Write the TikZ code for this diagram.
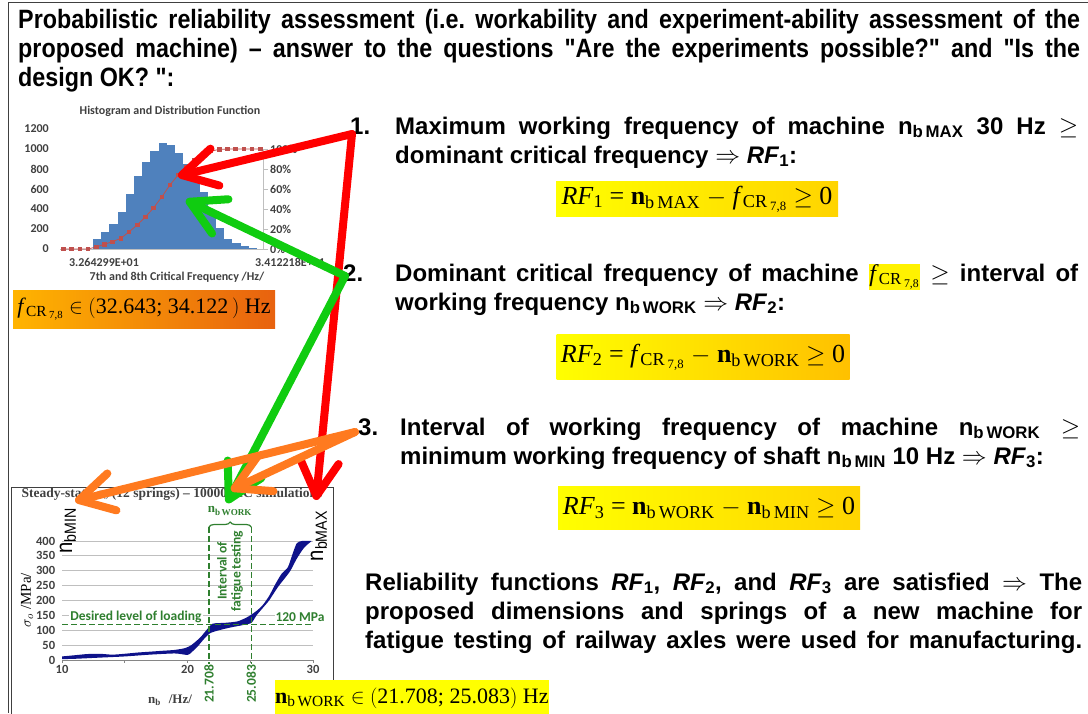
\documentclass[tikz,border=0pt]{standalone}
\usepackage{fontspec}
\setmainfont{Liberation Sans}
\newfontfamily\narrowfont{Liberation Sans}[FakeStretch=0.88, BoldFeatures={FakeStretch=0.88}]
\newfontfamily\tms{Liberation Serif}[Ligatures=TeX]
\newfontfamily\chartfont{Carlito}[Ligatures=TeX]
\usepackage{xcolor}
\usepackage{tikz}
\usetikzlibrary{arrows.meta,decorations.pathreplacing,plotmarks,positioning}
\frenchspacing

\definecolor{arrowred}{HTML}{FF0000}
\definecolor{arrowgreen}{HTML}{10CC10}
\definecolor{arroworange}{HTML}{FF7A1F}
\definecolor{chartgreen}{HTML}{2F7F2F}
\definecolor{barblue}{HTML}{4F81BD}
\definecolor{cdfred}{HTML}{C0504D}
\definecolor{bandblue}{HTML}{0E128A}
\definecolor{axisgray}{HTML}{404040}
\definecolor{gridgray}{HTML}{BFBFBF}
\definecolor{boxyellow}{HTML}{FFFF00}
\definecolor{boxgold}{HTML}{FFD400}
\definecolor{boxamber}{HTML}{FFC000}
\definecolor{boxorangeL}{HTML}{FFB400}
\definecolor{boxorangeR}{HTML}{E8620F}
\definecolor{glowyellow}{HTML}{FFF200}

\newcommand\nb[1]{n\textsubscript{b\,#1}}
\newcommand\RF[1]{\textit{RF}\textsubscript{#1}}
\newcommand\fcr{{\tms\mdseries\textit{f}\textsubscript{CR\,\textsubscript{7,8}}}}
\newcommand\tnb[1]{\textbf{n}\textsubscript{b\,#1}}
\newcommand\glow[1]{{\setlength\fboxsep{0.5pt}\colorbox{glowyellow}{#1}}}

\begin{document}
\begin{tikzpicture}
[x=1pt, y=-1pt]
\tikzset{
	bodytext/.style = {anchor=base west, inner sep=0, text width=#1, align=justify, font=\fontsize{24}{29}\selectfont\bfseries},
	numlabel/.style = {anchor=base west, inner sep=0, font=\fontsize{24}{29}\selectfont\bfseries},
	rfbox/.style = {inner sep=0, font=\tms\fontsize{26}{30}\selectfont},
	ticklabel/.style = {inner sep=1, text=axisgray, font=\chartfont\bfseries\fontsize{12}{13}\selectfont},
	bigticklabel/.style = {inner sep=1, text=axisgray, font=\chartfont\bfseries\fontsize{12.5}{14}\selectfont},
	greenlabel/.style = {inner sep=1, text=chartgreen, font=\chartfont\bfseries\fontsize{13.5}{14}\selectfont},
	bigarrow/.style = {draw=#1, line width=8pt, line cap=round, line join=round, -{Straight Barb[length=34pt, width=38pt, round]}},
	grid line/.style = {draw=gridgray, line width=0.8pt},
	limit line/.style = {draw=chartgreen, line width=1.2pt, dash pattern=on 6pt off 3pt}
}
\useasboundingbox (0,0) rectangle (1088,713);
\draw[axisgray, line width=1pt] (1088,2) -- (8,2) -- (8,713);

\node[bodytext=1062pt, font=\narrowfont\bfseries\fontsize{26.5}{29}\selectfont] (title) at (18,28)
	{Probabilistic reliability assessment (i.e. workability and experiment-ability assessment of the\linebreak
	proposed machine) \textendash{} answer to the questions "Are the experiments possible?" and "Is the\linebreak
	design OK? ":};

\node[numlabel] (num1) at (350,134) {1.};
\node[bodytext=683pt] (item1) at (395,134)
	{Maximum working frequency of machine \nb{MAX} 30 Hz $\geq$\linebreak
	dominant critical frequency $\Rightarrow$ \RF{1}:};
\node[rfbox, minimum width=282pt, minimum height=35pt, left color=boxyellow, right color=boxgold] (rf1) at (697,199)
	{\RF{1} = \tnb{MAX} $-$ \fcr{} $\geq$ 0};

\node[numlabel] (num2) at (343,281) {2.};
\node[bodytext=683pt] (item2) at (395,281)
	{Dominant critical frequency of machine \glow{\fcr} $\geq$ interval of\linebreak
	working frequency \nb{WORK} $\Rightarrow$ \RF{2}:};
\node[rfbox, minimum width=293pt, minimum height=45pt, left color=boxyellow, right color=boxamber] (rf2) at (703,357)
	{\RF{2} = \fcr{} $-$ \tnb{WORK} $\geq$ 0};

\node[numlabel] (num3) at (358,435) {3.};
\node[bodytext=680pt] (item3) at (400,435)
	{Interval of working frequency of machine \nb{WORK} $\geq$\linebreak
	minimum working frequency of shaft \nb{MIN} 10 Hz $\Rightarrow$ \RF{3}:};
\node[rfbox, minimum width=302pt, minimum height=43pt, left color=boxyellow, right color=boxgold] (rf3) at (709,508)
	{\RF{3} = \tnb{WORK} $-$ \tnb{MIN} $\geq$ 0};

\node[bodytext=717pt] (result) at (365,590)
	{Reliability functions \RF{1}, \RF{2}, and \RF{3} are satisfied $\Rightarrow$ The\linebreak
	proposed dimensions and springs of a new machine for\linebreak
	fatigue testing of railway axles were used for manufacturing.\parfillskip=0pt\par};

% histogram of the critical frequency
\node[ticklabel] (histtitle) at (170,111) {Histogram and Distribution Function};
\foreach \c [count=\i from 0] in {100,167,247,373,547,727,873,980,1063,1040,963,847,723,575,390,207,100,57,33,13}
	\fill[barblue] (93+8.2*\i,249) rectangle (101.2+8.2*\i,249-\c/10);
\draw[gridgray, line width=0.8pt] (60,249) -- (263,249) -- (263,149);
\foreach \p in {0,20,...,100}{
	\draw[gridgray, line width=0.8pt] (263,249-\p) -- (268,249-\p);
	\node[ticklabel, anchor=west] (plab\p) at (269,249-\p) {\p\%};
}
\foreach \v in {0,200,...,1200}
	\node[ticklabel, anchor=east] (clab\v) at (50,249-\v/10) {\v};
\draw[cdfred, line width=0.8pt, mark=square*, mark size=1.8pt] plot coordinates {
	(63.3,249) (71.5,249) (79.7,249) (87.9,249) (96.1,247) (104.3,244.3) (112.5,241.7) (120.7,238.3)
	(128.9,232) (137.1,225) (145.3,217) (153.5,208) (161.7,197) (169.9,185) (178.1,175) (186.3,167)
	(194.5,160) (202.7,155) (210.9,151) (219.1,149.5) (227.3,149) (235.5,149) (243.7,149) (251.9,149) (260.1,149)};
\node[ticklabel] (xlabA) at (104,262) {3.264299E+01};
\node[ticklabel] (xlabB) at (290,262) {3.412218E+01};
\node[ticklabel] (histxtitle) at (177,277) {7th and 8th Critical Frequency /Hz/};
\node[inner sep=0, minimum width=262pt, minimum height=38pt, left color=boxorangeL, right color=boxorangeR,
	font=\tms\fontsize{22}{26}\selectfont] (fcrbox) at (144,309)
	{\fcr{} $\in$ $\Big($32.643; 34.122\,$\Big)$ Hz};

% steady-state stress chart
\draw[axisgray, line width=0.8pt] (11,487) rectangle (333,720);
\node[inner sep=0, font=\tms\bfseries\fontsize{13.5}{14}\selectfont, text=axisgray] (charttitle) at (172,494)
	{Steady-state $\sigma_o$ (12 springs) -- 10000 MC simulations};
\begin{scope}[shift={(62,660)}, x=12.55pt, y=0.2975pt]
	\foreach \v in {50,100,...,400}
		\draw[grid line] (0,\v) -- (20,\v);
	\draw[gridgray!70!black, line width=0.8pt] (0,0) -- (20,0);
	\foreach \t in {0,5,...,20}
		\draw[gridgray!70!black, line width=0.8pt] (\t,0) -- (\t,-10);
	\foreach \v in {0,50,...,400}
		\node[bigticklabel, anchor=east] (slab\v) at (-0.45,\v) {\v};
	\foreach \t/\lab in {0/10,10/20,20/30}
		\node[bigticklabel, anchor=north] (nlab\lab) at (\t,-14) {\lab};
	\fill[bandblue] plot[smooth, tension=0.4] coordinates {
		(0,12) (1,16) (2,20) (3,21) (4,18) (5,21) (6,25) (7,28) (8,31) (9,34) (9.8,40) (10.3,50) (11,75)
		(11.5,100) (12,122) (13,125) (14,130) (14.8,145) (15.5,165) (16,185) (16.5,215) (17,255) (17.5,290)
		(18,312) (18.4,360) (18.7,392) (19.1,400) (19.9,400)}
		-- plot[smooth, tension=0.4] coordinates {
		(19.9,400) (19.3,378) (18.7,340) (18.2,300) (17.7,272) (17.2,245) (16.5,200) (16,175) (15.5,150)
		(15.1,125) (14.5,118) (13.5,110) (12.5,100) (11.8,90) (11.3,70) (10.8,45) (10.3,25) (10,17) (9,22)
		(7,18) (5,12) (3,8) (1,4) (0,3)} -- cycle;
\end{scope}
\node[greenlabel, fill=white] (loadlabel) at (136,617) {Desired level of loading};
\node[greenlabel, fill=white] (mpalabel) at (300,617) {120 MPa};
\draw[limit line] (62,624.3) -- (313,624.3);
\draw[limit line] (209,527) -- (209,666);
\draw[limit line] (251.3,527) -- (251.3,666);
\draw[chartgreen, line width=1.2pt, decorate, decoration={brace, amplitude=5pt}] (209,527) -- (251.3,527);
\node[inner sep=0, text=chartgreen, font=\tms\bfseries\fontsize{13}{14}\selectfont] (nbwork) at (230,511) {n\textsubscript{b\,WORK}};
\node[greenlabel, rotate=90, align=center] (intervallabel) at (230,571) {Interval of\\fatigue testing};
\node[greenlabel, rotate=90, fill=white] (lowlabel) at (209,684) {21.708};
\node[greenlabel, rotate=90, fill=white] (highlabel) at (251.3,684) {25.083};
\node[inner sep=0, rotate=90, font=\narrowfont\fontsize{23}{24}\selectfont] (nbmin) at (68,531) {n\textsubscript{bMIN}};
\node[inner sep=0, rotate=90, font=\narrowfont\fontsize{23}{24}\selectfont] (nbmax) at (319,536) {n\textsubscript{bMAX}};
\node[inner sep=0, rotate=90, font=\tms\fontsize{15}{16}\selectfont] (sigmatitle) at (27,600) {$\sigma_o$ /MPa/};
\node[inner sep=0, font=\tms\bfseries\fontsize{13}{14}\selectfont, text=axisgray] (nbtitle) at (170,700) {n\textsubscript{b}\hspace{8pt}/Hz/};
\node[inner sep=0, minimum width=273pt, minimum height=36pt, fill=boxyellow, anchor=north west,
	font=\tms\fontsize{22}{26}\selectfont] (workbox) at (275,680)
	{\tnb{WORK} $\in$ $\Big($21.708; 25.083$\Big)$ Hz};

\coordinate (src1) at (352,134);
\coordinate (cdfpt) at (178,176);
\coordinate (nbmaxtip) at (316,500);
\coordinate (src2) at (345,276);
\coordinate (histpt) at (186,200);
\coordinate (worktip) at (227,503);
\coordinate (src3) at (355,432);
\coordinate (nbmintip) at (75,501);
\coordinate (worktipB) at (231,490);

\draw[bigarrow=arrowred] (src1) -- (cdfpt);
\draw[bigarrow=arrowred] (src1) -- (nbmaxtip);
\draw[bigarrow=arrowgreen] (src2) -- (histpt);
\draw[bigarrow=arrowgreen] (src2) -- (worktip);
\draw[bigarrow=arroworange] (src3) -- (nbmintip);
\draw[bigarrow=arroworange] (src3) -- (worktipB);

\end{tikzpicture}
\end{document}
